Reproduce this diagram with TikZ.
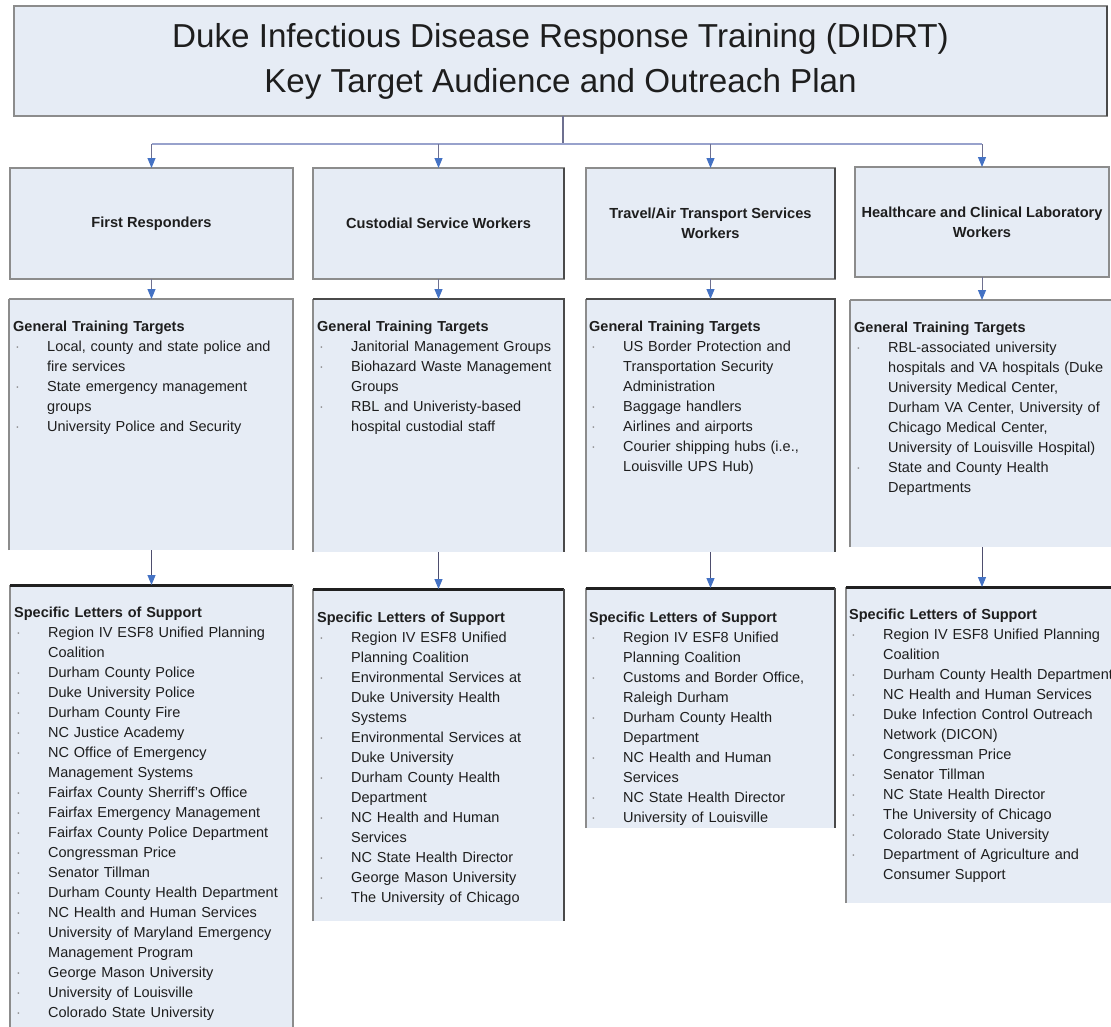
\documentclass[tikz,border=0pt]{standalone}
\usepackage{fontspec}
\setmainfont{Liberation Sans}
\usetikzlibrary{arrows.meta}
\definecolor{boxfill}{HTML}{E6ECF5}
\definecolor{edgegray}{HTML}{8C8C8C}
\definecolor{edgedark}{HTML}{4A4A4A}
\definecolor{topblack}{HTML}{202020}
\definecolor{arrowblue}{HTML}{4472C4}
\definecolor{busline}{HTML}{98A2CC}
\definecolor{stemline}{HTML}{6E7090}
\definecolor{shaftdark}{HTML}{4E4E6E}
\definecolor{textgray}{HTML}{1E1E1E}
\definecolor{bulletgray}{HTML}{8A8A8A}
\newcommand{\bitem}[1]{\par\hangindent=34pt\hangafter=1\noindent\makebox[34pt][l]{\hspace{2pt}\textcolor{bulletgray}{\textperiodcentered}}#1}
\newcommand{\bodyfont}{\fontsize{14.5}{20}\selectfont}
\begin{document}
\begin{tikzpicture}[x=1pt,y=-1pt,
  panel/.style={rectangle, fill=boxfill, inner sep=0pt, outer sep=0pt, anchor=north west},
  hdrbox/.style={panel, draw=edgegray, line width=1.2pt, align=center, text=textgray,
     font=\bfseries\fontsize{14.6}{20}\selectfont},
  listtext/.style={inner sep=0pt, anchor=north west, text width=300pt, align=left, text=textgray, font=\bodyfont},
  grayedge/.style={draw=edgegray, line width=1.2pt},
  darkedge/.style={draw=edgedark, line width=1.6pt},
  thicktop/.style={draw=topblack, line width=3pt},
  arr/.style={-{Triangle[width=8pt,length=10pt,color=arrowblue]}, line width=1pt},
]
\useasboundingbox (0,0) rectangle (1111,1026);
\clip (0,0) rectangle (1111,1026);
\fill[white] (0,0) rectangle (1111,1026);

% title
\node[panel, draw=edgegray, line width=1.2pt, minimum width=1093pt, minimum height=110pt,
      align=center, text=textgray, font=\fontsize{33.2}{45}\selectfont] (title) at (14,6)
  {Duke Infectious Disease Response Training (DIDRT)\\Key Target Audience and Outreach Plan};
\draw[darkedge] (title.north east) -- (title.south east);

% header boxes
\node[hdrbox, minimum width=283pt, minimum height=111pt] (h1) at (10,168) {First Responders};
\node[hdrbox, minimum width=251pt, minimum height=111pt] (h2) at (313,168) {Custodial Service Workers};
\node[hdrbox, minimum width=249pt, minimum height=111pt] (h3) at (586,168) {Travel/Air Transport Services\\Workers};
\node[hdrbox, minimum width=254pt, minimum height=110pt] (h4) at (855,167) {Healthcare and Clinical Laboratory\\Workers};
\draw[darkedge] (h2.north east) -- (h2.south east);
\draw[darkedge] (h3.north east) -- (h3.south east);

% general boxes
\node[panel, minimum width=284pt, minimum height=251pt] (g1) at (9,299) {};
\node[panel, minimum width=251pt, minimum height=253pt] (g2) at (313,299) {};
\node[panel, minimum width=249pt, minimum height=253pt] (g3) at (586,299) {};
\node[panel, minimum width=265pt, minimum height=247pt] (g4) at (850,300) {};
\foreach \b in {g1,g2,g3,g4}{
  \draw[grayedge] (\b.south west) -- (\b.north west);
}
\draw[grayedge] (g1.north west) -- (g1.north east) -- (g1.south east);
\draw[darkedge] (g2.north west) -- (g2.north east) -- (g2.south east);
\draw[darkedge] (g3.north west) -- (g3.north east) -- (g3.south east);
\draw[grayedge] (g4.north west) -- (g4.north east);

% specific boxes
\node[panel, minimum width=283pt, minimum height=450pt] (s1) at (10,585) {};
\node[panel, minimum width=251pt, minimum height=332pt] (s2) at (313,589) {};
\node[panel, minimum width=249pt, minimum height=240pt] (s3) at (586,588) {};
\node[panel, minimum width=270pt, minimum height=316pt] (s4) at (846,587) {};
\foreach \b in {s1,s2,s3,s4}{
  \draw[grayedge] (\b.south west) -- (\b.north west);
  \draw[thicktop] (\b.north west) -- (\b.north east);
}
\draw[grayedge] (s1.north east) -- (s1.south east);
\draw[darkedge] (s2.north east) -- (s2.south east);
\draw[darkedge] (s3.north east) -- (s3.south east);

% connectors
\coordinate (hub) at (563,144);
\draw[draw=stemline, line width=1.2pt] (title.south -| hub) -- (hub);
\draw[draw=busline, line width=1.2pt] (hub -| h1.north) -- (hub -| h4.north);
\foreach \h in {h1,h2,h3,h4}{
  \draw[arr, draw=stemline] (hub -| \h.north) -- (\h.north);
}
\draw[arr, draw=stemline] (h1.south) -- (h1.south |- g1.north);
\draw[arr, draw=stemline] (h2.south) -- (h2.south |- g2.north);
\draw[arr, draw=stemline] (h3.south) -- (h3.south |- g3.north);
\draw[arr, draw=stemline] (h4.south) -- (h4.south |- g4.north);
\draw[arr, draw=shaftdark] (g1.south -| h1.south) -- (h1.south |- s1.north);
\draw[arr, draw=shaftdark] (g2.south -| h2.south) -- (h2.south |- s2.north);
\draw[arr, draw=shaftdark] (g3.south -| h3.south) -- (h3.south |- s3.north);
\draw[arr, draw=shaftdark] (g4.south -| h4.south) -- (h4.south |- s4.north);

% general texts
\node[listtext] (gt1) at ([shift={(4,18)}]g1.north west) {\strut\textbf{General Training Targets}
  \bitem{Local, county and state police and\newline fire services}
  \bitem{State emergency management\newline groups}
  \bitem{University Police and Security}\par};
\node[listtext] (gt2) at ([shift={(4,18)}]g2.north west) {\strut\textbf{General Training Targets}
  \bitem{Janitorial Management Groups}
  \bitem{Biohazard Waste Management\newline Groups}
  \bitem{RBL and Univeristy-based\newline hospital custodial staff}\par};
\node[listtext] (gt3) at ([shift={(3,18)}]g3.north west) {\strut\textbf{General Training Targets}
  \bitem{US Border Protection and\newline Transportation Security\newline Administration}
  \bitem{Baggage handlers}
  \bitem{Airlines and airports}
  \bitem{Courier shipping hubs (i.e.,\newline Louisville UPS Hub)}\par};
\node[listtext] (gt4) at ([shift={(4,18)}]g4.north west) {\strut\textbf{General Training Targets}
  \bitem{RBL-associated university\newline hospitals and VA hospitals (Duke\newline University Medical Center,\newline Durham VA Center, University of\newline Chicago Medical Center,\newline University of Louisville Hospital)}
  \bitem{State and County Health\newline Departments}\par};

% specific texts
\node[listtext] (st1) at ([shift={(4,18)}]s1.north west) {\strut\textbf{Specific Letters of Support}
  \bitem{Region IV ESF8 Unified Planning\newline Coalition}
  \bitem{Durham County Police}
  \bitem{Duke University Police}
  \bitem{Durham County Fire}
  \bitem{NC Justice Academy}
  \bitem{NC Office of Emergency\newline Management Systems}
  \bitem{Fairfax County Sherriff's Office}
  \bitem{Fairfax Emergency Management}
  \bitem{Fairfax County Police Department}
  \bitem{Congressman Price}
  \bitem{Senator Tillman}
  \bitem{Durham County Health Department}
  \bitem{NC Health and Human Services}
  \bitem{University of Maryland Emergency\newline Management Program}
  \bitem{George Mason University}
  \bitem{University of Louisville}
  \bitem{Colorado State University}\par};
\node[listtext] (st2) at ([shift={(4,19)}]s2.north west) {\strut\textbf{Specific Letters of Support}
  \bitem{Region IV ESF8 Unified\newline Planning Coalition}
  \bitem{Environmental Services at\newline Duke University Health\newline Systems}
  \bitem{Environmental Services at\newline Duke University}
  \bitem{Durham County Health\newline Department}
  \bitem{NC Health and Human\newline Services}
  \bitem{NC State Health Director}
  \bitem{George Mason University}
  \bitem{The University of Chicago}\par};
\node[listtext] (st3) at ([shift={(3,20)}]s3.north west) {\strut\textbf{Specific Letters of Support}
  \bitem{Region IV ESF8 Unified\newline Planning Coalition}
  \bitem{Customs and Border Office,\newline Raleigh Durham}
  \bitem{Durham County Health\newline Department}
  \bitem{NC Health and Human\newline Services}
  \bitem{NC State Health Director}
  \bitem{University of Louisville}\par};
\node[listtext] (st4) at ([shift={(3,18)}]s4.north west) {\strut\textbf{Specific Letters of Support}
  \bitem{Region IV ESF8 Unified Planning\newline Coalition}
  \bitem{Durham County Health Department}
  \bitem{NC Health and Human Services}
  \bitem{Duke Infection Control Outreach\newline Network (DICON)}
  \bitem{Congressman Price}
  \bitem{Senator Tillman}
  \bitem{NC State Health Director}
  \bitem{The University of Chicago}
  \bitem{Colorado State University}
  \bitem{Department of Agriculture and\newline Consumer Support}\par};
\end{tikzpicture}
\end{document}
